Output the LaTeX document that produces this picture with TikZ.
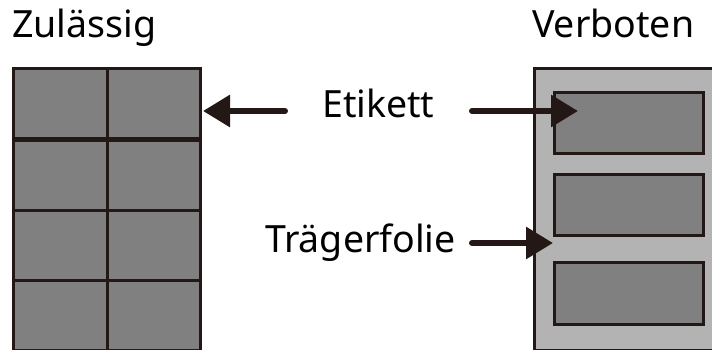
\documentclass[tikz,border=0pt]{standalone}
\usepackage{fontspec}
\setmainfont{Noto Sans}
\usetikzlibrary{arrows.meta}
\definecolor{ink}{HTML}{231815}
\definecolor{darkfill}{HTML}{808080}
\definecolor{lightfill}{HTML}{B3B3B3}
\tikzset{
  cell/.style={draw=ink, fill=darkfill, line width=3pt},
  sheet/.style={draw=ink, fill=lightfill, line width=3pt},
  lbl/.style={anchor=base west, inner sep=0pt, font=\fontsize{37.5}{41}\selectfont, text=black},
  arr/.style={draw=ink, line width=6pt, line cap=round, -{Triangle[length=27pt,width=31pt]}}
}
\begin{document}
\begin{tikzpicture}[x=1pt,y=1pt]
\useasboundingbox (0,0) rectangle (712,350);
\clip (0,0) rectangle (712,350);
% left grid
\foreach \i/\y in {0/279,1/209,2/139,3/67}{
  \node[cell, minimum width=94pt, minimum height=70pt, inner sep=0pt, anchor=north west] (l\i a) at (12,350-\y) {};
  \node[cell, minimum width=93pt, minimum height=70pt, inner sep=0pt, anchor=north west] (l\i b) at (106,350-\y) {};
}
% right sheet
\node[sheet, minimum width=200pt, minimum height=282pt, inner sep=0pt, anchor=north west] (sheet) at (533,350-67) {};
\node[cell, minimum width=149pt, minimum height=61pt, inner sep=0pt, anchor=north west] (r1) at (553,350-91) {};
\node[cell, minimum width=149pt, minimum height=61pt, inner sep=0pt, anchor=north west] (r2) at (553,350-173) {};
\node[cell, minimum width=149pt, minimum height=62pt, inner sep=0pt, anchor=north west] (r3) at (553,350-261) {};
% labels
\node[lbl] (zul) at (12,312) {Zulässig};
\node[lbl] (verb) at (532,312) {Verboten};
\node[lbl] (etikett) at (322,232) {Etikett};
\node[lbl] (traeger) at (265,97) {Trägerfolie};
% arrow ends
\coordinate (e1) at (285,239);
\coordinate (e2) at (472,239);
\coordinate (t1) at (472,107);
\coordinate (tipL) at (203,239);
\coordinate (tipR) at (578,239);
\coordinate (tipT) at (553,107);
\draw[arr] (e1) -- (tipL);
\draw[arr] (e2) -- (tipR);
\draw[arr] (t1) -- (tipT);
\end{tikzpicture}
\end{document}
